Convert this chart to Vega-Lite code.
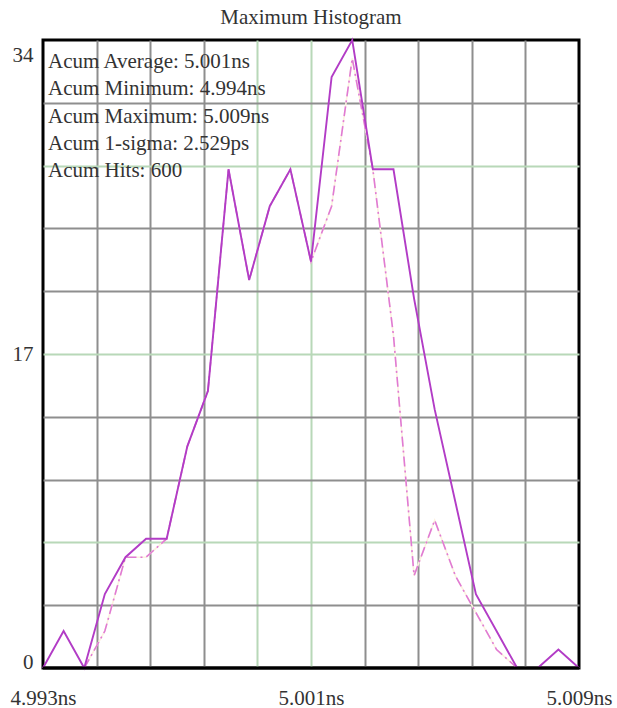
{
  "$schema": "https://vega.github.io/schema/vega-lite/v6.json",
  "width": 536,
  "height": 628,
  "autosize": {"type": "none"},
  "padding": {"left": 43, "top": 40, "right": 38, "bottom": 40},
  "background": "white",
  "title": {"text": "Maximum Histogram", "font": "Liberation Serif", "fontSize": 21, "fontWeight": "normal", "color": "#333333", "anchor": "middle", "offset": 8},
  "config": {
    "view": {"stroke": "black", "strokeWidth": 3},
    "axis": {"labelFont": "Liberation Serif", "labelFontSize": 21, "labelColor": "#333333", "domain": false, "ticks": false, "grid": true, "gridWidth": 2, "title": null, "labelOverlap": false}
  },
  "datasets": {
    "hist": [
      {"time_ns": 4.993, "maximum": 0, "current": null},
      {"time_ns": 4.993615, "maximum": 2, "current": null},
      {"time_ns": 4.994231, "maximum": 0, "current": 0},
      {"time_ns": 4.994846, "maximum": 4, "current": 2},
      {"time_ns": 4.995462, "maximum": 6, "current": 6},
      {"time_ns": 4.996077, "maximum": 7, "current": 6},
      {"time_ns": 4.996692, "maximum": 7, "current": 7},
      {"time_ns": 4.997308, "maximum": 12, "current": 12},
      {"time_ns": 4.997923, "maximum": 15, "current": 15},
      {"time_ns": 4.998538, "maximum": 27, "current": 27},
      {"time_ns": 4.999154, "maximum": 21, "current": 21},
      {"time_ns": 4.999769, "maximum": 25, "current": 25},
      {"time_ns": 5.000385, "maximum": 27, "current": 27},
      {"time_ns": 5.001, "maximum": 22, "current": 22},
      {"time_ns": 5.001615, "maximum": 32, "current": 25},
      {"time_ns": 5.002231, "maximum": 34, "current": 33},
      {"time_ns": 5.002846, "maximum": 27, "current": 27},
      {"time_ns": 5.003462, "maximum": 27, "current": 18},
      {"time_ns": 5.004077, "maximum": 20, "current": 5},
      {"time_ns": 5.004692, "maximum": 14, "current": 8},
      {"time_ns": 5.005308, "maximum": 9, "current": 5},
      {"time_ns": 5.005923, "maximum": 4, "current": 3},
      {"time_ns": 5.006538, "maximum": 2, "current": 1},
      {"time_ns": 5.007154, "maximum": 0, "current": 0},
      {"time_ns": 5.007769, "maximum": 0, "current": null},
      {"time_ns": 5.008385, "maximum": 1, "current": null},
      {"time_ns": 5.009, "maximum": 0, "current": null}
    ],
    "stats": [
      {"text": "Acum Average: 5.001ns\nAcum Minimum: 4.994ns\nAcum Maximum: 5.009ns\nAcum 1-sigma: 2.529ps\nAcum Hits: 600"}
    ]
  },
  "layer": [
    {
      "data": {"name": "hist"},
      "mark": {"type": "line", "color": "#fcf1df", "strokeWidth": 1.6},
      "encoding": {
        "x": {
          "field": "time_ns", "type": "quantitative",
          "scale": {"domain": [4.993, 5.009], "nice": false, "zero": false},
          "axis": {
            "values": [4.993, 4.9946, 4.9962, 4.9978, 4.9994, 5.001, 5.0026, 5.0042, 5.0058, 5.0074, 5.009],
            "labelExpr": "datum.value == 4.993 || datum.value == 5.001 || datum.value == 5.009 ? format(datum.value, '.3f') + 'ns' : ''",
            "labelPadding": 19,
            "labelFlush": false,
            "gridColor": {"condition": {"test": "datum.value == 4.9994 || datum.value == 5.001", "value": "#b8d8b8"}, "value": "#8e8e8e"},
            "gridOpacity": {"condition": {"test": "datum.value == 4.993 || datum.value == 5.009", "value": 0}, "value": 1}
          }
        },
        "y": {
          "field": "current", "type": "quantitative",
          "scale": {"domain": [0, 34], "nice": false},
          "axis": {
            "values": [0, 3.4, 6.8, 10.2, 13.6, 17, 20.4, 23.8, 27.2, 30.6, 34],
            "labelExpr": "datum.value == 0 || datum.value == 17 || datum.value == 34 ? datum.label : ''",
            "labelPadding": 10,
            "labelFlush": true,
            "labelOffset": {"condition": {"test": "datum.value == 0 || datum.value == 34", "value": 4.5}, "value": 0},
            "gridColor": {"condition": {"test": "datum.value == 6.8 || datum.value == 17 || datum.value == 27.2", "value": "#b8d8b8"}, "value": "#8e8e8e"},
            "gridOpacity": {"condition": {"test": "datum.value == 0 || datum.value == 34", "value": 0}, "value": 1}
          }
        }
      }
    },
    {
      "data": {"name": "hist"},
      "mark": {"type": "line", "color": "#e07ad4", "strokeWidth": 1.6, "strokeDash": [10, 4, 2, 4]},
      "encoding": {
        "x": {"field": "time_ns", "type": "quantitative"},
        "y": {"field": "current", "type": "quantitative"}
      }
    },
    {
      "data": {"name": "hist"},
      "mark": {"type": "line", "color": "#b23cc6", "strokeWidth": 1.9},
      "encoding": {
        "x": {"field": "time_ns", "type": "quantitative"},
        "y": {"field": "maximum", "type": "quantitative"}
      }
    },
    {
      "data": {"name": "stats"},
      "mark": {"type": "rule", "color": "black", "strokeWidth": 3},
      "encoding": {"y": {"datum": 0}}
    },
    {
      "data": {"name": "stats"},
      "mark": {"type": "text", "align": "left", "baseline": "alphabetic", "dx": 5, "dy": 28, "lineBreak": "\n", "lineHeight": 27.3, "font": "Liberation Serif", "fontSize": 21, "color": "#333333"},
      "encoding": {
        "x": {"datum": 4.993},
        "y": {"datum": 34},
        "text": {"field": "text"}
      }
    }
  ]
}
